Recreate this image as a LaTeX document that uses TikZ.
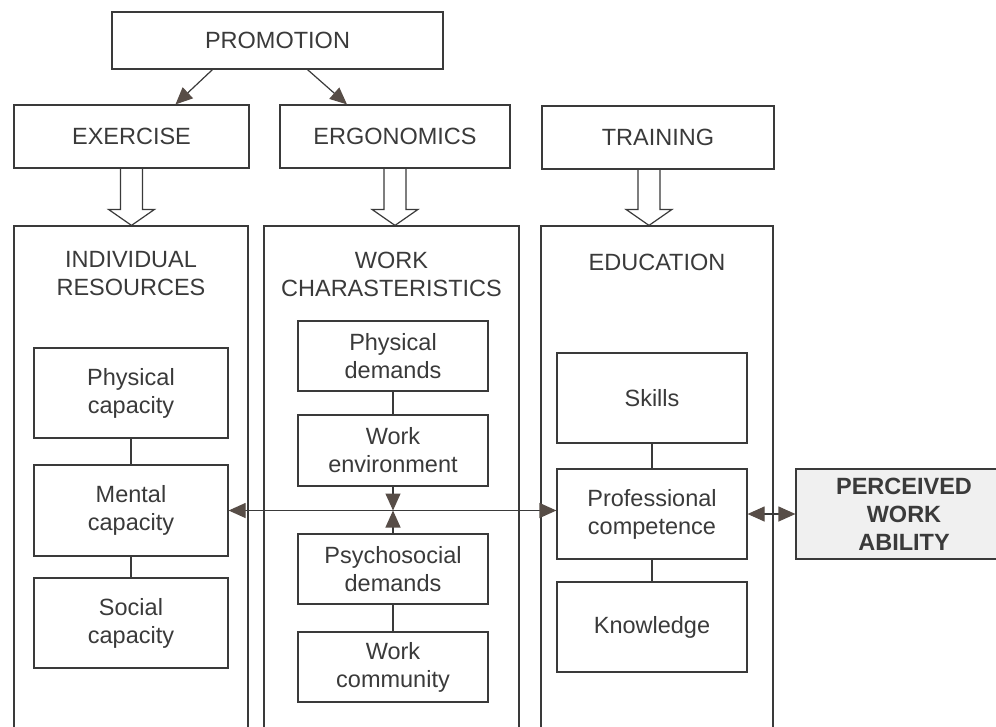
\documentclass[tikz,border=0pt]{standalone}
\usepackage{fontspec}
\setmainfont{Liberation Sans}
\usetikzlibrary{arrows.meta,calc}
\definecolor{ink}{HTML}{3A3A3A}
\definecolor{tipc}{HTML}{574D47}
\newcommand\blockarrow[2]{%
  \draw ($(#1)+(-11,0)$) -- ($(#2)+(-11,-16)$) -- ($(#2)+(-23,-16)$) -- (#2)
    -- ($(#2)+(23,-16)$) -- ($(#2)+(11,-16)$) -- ($(#1)+(11,0)$);}
\begin{document}
\begin{tikzpicture}[x=1pt,y=-1pt,color=ink,line width=1.2pt,
    txt/.style={align=center,inner sep=0pt,font=\fontsize{23.5}{28}\selectfont},
    box/.style={txt,draw,minimum width=#1},
    box/.default=190,
    column/.style={draw,minimum width=#1,minimum height=534},
    tip/.tip={Triangle[length=17pt,width=15pt,color=tipc]},
    arr/.style={-tip},
    dblarr/.style={tip-tip}]
\useasboundingbox[fill=white] (0,0) rectangle (996,726);

\node[box=331,minimum height=57] (promo) at (277.5,40.5) {PROMOTION};
\node[box=235,minimum height=63] (exercise) at (131.5,136.5) {EXERCISE};
\node[box=230,minimum height=63] (ergo) at (395,136.5) {ERGONOMICS};
\node[box=232,minimum height=63] (training) at (658,137.5) {TRAINING};

\node[column=234] (ind) at (131,493) {};
\node[column=255] (work) at (391.5,493) {};
\node[column=232] (edu) at (657,493) {};

\node[txt] (indtitle) at (131,274) {INDIVIDUAL\\RESOURCES};
\node[txt] (worktitle) at (391.5,274) {WORK\\CHARASTERISTICS};
\node[txt] (edutitle) at (657,262) {EDUCATION};

\draw[arr] ($(promo.south)+(-65,0)$) -- ($(exercise.north)+(44,0)$);
\draw[arr] ($(promo.south)+(30,0)$) -- ($(ergo.north)+(-48,0)$);

\coordinate (trn) at ($(training.south)+(-9,0)$);
\coordinate (edutop) at (trn |- edu.north);
\blockarrow{exercise.south}{exercise.south |- ind.north}
\blockarrow{ergo.south}{ergo.south |- work.north}
\blockarrow{trn}{edutop}

\node[box=194,minimum height=90] (physcap) at (131,393) {Physical\\capacity};
\node[box=194,minimum height=91] (mental) at (131,510.5) {Mental\\capacity};
\node[box=194,minimum height=90] (social) at (131,623) {Social\\capacity};

\node[box,minimum height=70] (physdem) at (393,356) {Physical\\demands};
\node[box,minimum height=71] (workenv) at (393,450.5) {Work\\environment};
\node[box,minimum height=70] (psycho) at (393,569) {Psychosocial\\demands};
\node[box,minimum height=70] (community) at (393,667) {Work\\community};

\node[box,minimum height=90] (skills) at (652,398) {Skills};
\node[box,minimum height=90] (prof) at (652,514) {Professional\\competence};
\node[box,minimum height=90] (knowledge) at (652,627) {Knowledge};

\node[box=216,minimum height=90,fill=black!6,font=\fontsize{23.5}{28}\selectfont\bfseries] (pwa) at (904,514) {PERCEIVED\\WORK\\ABILITY};

\draw (physcap) -- (mental) -- (social);
\draw (physdem) -- (workenv);
\draw (psycho) -- (community);
\draw (skills) -- (prof) -- (knowledge);

\coordinate (hub) at (workenv.south |- mental.east);
\draw[dblarr] (mental.east) -- (prof.west |- mental.east);
\draw[arr] (workenv.south) -- (hub);
\draw[arr] (psycho.north) -- (hub);
\draw[dblarr] (prof.east) -- (pwa.west);
\end{tikzpicture}
\end{document}
